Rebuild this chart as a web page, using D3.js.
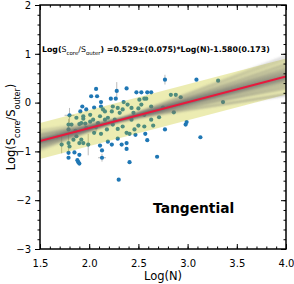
<!DOCTYPE html>
<html>
<head>
<meta charset="utf-8">
<script src="https://cdn.jsdelivr.net/npm/d3@7"></script>
<style>
  body { margin: 0; background: #fff; }
  svg { display: block; font-family: "DejaVu Sans", sans-serif; }
</style>
</head>
<body>
<div id="wrapper"></div>
<script>
// step 0: data
const logN = [
  2.07, 2.28, 2.38, 2.02, 2.08, 2.22, 2.27, 2.48, 2.53, 2.59, 2.58, 2.12, 2.35, 1.93, 2.05, 1.91,
  1.80, 2.77, 3.09, 2.63, 2.83, 2.88, 2.93, 2.86, 2.98, 2.99, 3.31, 3.36, 2.77, 3.13, 2.69, 2.59,
  2.57, 2.47, 2.41, 2.30, 2.38, 2.38, 2.33, 2.29, 2.23, 2.19, 2.11, 2.13, 2.13, 1.79, 1.85, 1.90,
  1.79, 1.88, 1.89, 1.90, 2.63, 2.65,
  1.72, 1.79, 1.80, 1.92, 1.94, 1.90, 1.99, 1.84, 1.87, 1.79, 1.90, 1.92, 1.96, 2.01, 2.07, 2.12,
  2.18, 2.24, 2.29, 2.34, 2.38, 2.41, 2.46, 2.50, 2.56, 2.09, 2.12, 2.16, 2.19, 2.23, 2.29, 2.31,
  2.34, 2.39, 2.43, 2.50, 2.45, 2.53, 2.56, 2.63, 2.26, 2.16, 1.97, 1.94, 2.01, 1.87, 1.82, 2.04,
  1.97, 1.79, 2.11, 2.14, 2.24, 2.51, 2.56, 1.94, 2.71, 2.75, 2.43, 2.05, 1.86
];
const logRatio = [
  0.28, 0.24, 0.29, 0.13, 0.13, 0.08, 0.08, 0.21, 0.21, 0.21, 0.08, 0.01, 0.01, -0.08, -0.10, -0.18,
  -0.26, 0.47, 0.47, 0.21, 0.16, 0.16, 0.11, -0.20, -0.45, -0.40, 0.45, 0.01, -0.55, -0.71, -1.11, -0.77,
  -0.64, -0.66, -1.22, -1.58, -0.95, -0.83, -0.86, -0.74, -0.86, -0.80, -0.88, -0.98, -1.13, -1.03, -1.02, -1.07,
  -1.13, -1.18, -1.22, -1.25, -0.35, -0.47,
  -0.86, -0.83, -0.90, -0.76, -0.83, -0.83, -0.86, -0.76, -0.69, -0.45, -0.44, -0.42, -0.43, -0.39, -0.50, -0.64,
  -0.55, -0.45, -0.54, -0.49, -0.62, -0.64, -0.55, -0.47, -0.49, -0.42, -0.08, -0.18, -0.31, -0.18, -0.11, -0.21,
  -0.14, -0.04, -0.11, -0.12, -0.21, -0.04, -0.25, -0.08, -0.35, -0.35, -0.14, -0.28, -0.25, -0.31, -0.45, -0.35,
  -0.52, -0.55, -0.28, -0.14, -0.08, 0.06, 0.08, -0.33, -0.30, -0.10, -0.35, -0.62, -0.58
];

// points that carry error bars
const errN = [2.28, 1.80, 2.77, 2.13, 1.72, 1.79, 1.99, 1.79, 2.07];
const errRatio = [0.24, -0.26, 0.47, -1.13, -0.86, -0.83, -0.86, -0.45, -0.50];
const errNSize = [0, 0.05, 0, 0.04, 0, 0, 0, 0, 0];
const errRatioSize = [0.18, 0.15, 0.10, 0.08, 0.18, 0.20, 0.22, 0.12, 0.10];

// best fit and its scatter band
const fitSlope = 0.529;
const fitIntercept = -1.580;
const fitScatter = 0.37;

// bootstrap fan of fits
const fanSlope = [
  0.29, 0.33, 0.37, 0.40, 0.42, 0.44, 0.46, 0.47, 0.48, 0.49, 0.50, 0.51, 0.515, 0.52, 0.525,
  0.53, 0.535, 0.54, 0.55, 0.56, 0.57, 0.58, 0.59, 0.60, 0.62, 0.64, 0.66, 0.69, 0.72, 0.77
];
const fanIntercept = [
  -1.01, -1.14, -1.20, -1.29, -1.30, -1.41, -1.41, -1.46, -1.45, -1.49, -1.52, -1.52, -1.57, -1.55, -1.57,
  -1.59, -1.57, -1.63, -1.62, -1.66, -1.65, -1.72, -1.71, -1.75, -1.77, -1.86, -1.87, -1.96, -2.00, -2.13
];

const xTicks = [1.5, 2.0, 2.5, 3.0, 3.5, 4.0];
const yTicks = [-3, -2, -1, 0, 1, 2];

function drawChart() {
  const dimensions = {
    width: 294,
    height: 284,
    margin: { top: 5, right: 8, bottom: 35, left: 40 },
  };
  dimensions.boundedWidth = dimensions.width - dimensions.margin.left - dimensions.margin.right;
  dimensions.boundedHeight = dimensions.height - dimensions.margin.top - dimensions.margin.bottom;

  const wrapper = d3.select('#wrapper')
    .append('svg')
    .attr('width', dimensions.width)
    .attr('height', dimensions.height);
  const bounds = wrapper.append('g')
    .attr('transform', `translate(${dimensions.margin.left},${dimensions.margin.top})`);

  const xScale = d3.scaleLinear().domain([1.5, 4.0]).range([0, dimensions.boundedWidth]);
  const yScale = d3.scaleLinear().domain([-3, 2]).range([dimensions.boundedHeight, 0]);

  const defs = wrapper.append('defs');
  defs.append('clipPath').attr('id', 'clip')
    .append('rect')
    .attr('width', dimensions.boundedWidth)
    .attr('height', dimensions.boundedHeight);
  defs.append('filter').attr('id', 'soft')
    .attr('x', '-10%').attr('y', '-50%').attr('width', '120%').attr('height', '200%')
    .append('feGaussianBlur').attr('stdDeviation', 1.3);
  const plot = bounds.append('g').attr('clip-path', 'url(#clip)');

  const [x0, x1] = xScale.domain();

  // error bars
  const errs = plot.append('g').attr('stroke', '#aaaaaa').attr('stroke-width', 0.8);
  errN.forEach((n, i) => {
    errs.append('line')
      .attr('x1', xScale(n)).attr('x2', xScale(n))
      .attr('y1', yScale(errRatio[i] - errRatioSize[i]))
      .attr('y2', yScale(errRatio[i] + errRatioSize[i]));
    if (errNSize[i] > 0) {
      errs.append('line')
        .attr('x1', xScale(n - errNSize[i])).attr('x2', xScale(n + errNSize[i]))
        .attr('y1', yScale(errRatio[i])).attr('y2', yScale(errRatio[i]));
    }
  });

  // points
  plot.append('g').selectAll('circle')
    .data(logN)
    .join('circle')
    .attr('cx', d => xScale(d))
    .attr('cy', (d, i) => yScale(logRatio[i]))
    .attr('r', 2.1)
    .attr('fill', '#1f77b4');

  // scatter band
  const band = d3.area()
    .x(d => xScale(d))
    .y0(d => yScale(fitSlope * d + fitIntercept - fitScatter))
    .y1(d => yScale(fitSlope * d + fitIntercept + fitScatter));
  plot.append('path')
    .datum([x0, x1])
    .attr('d', band)
    .attr('fill', '#bfbf00')
    .attr('opacity', 0.3);

  // fan of bootstrap fits
  const fan = plot.append('g')
    .attr('filter', 'url(#soft)')
    .attr('stroke', '#707070')
    .attr('stroke-width', 2.2)
    .attr('stroke-opacity', 0.27);
  fanSlope.forEach((s, i) => {
    fan.append('line')
      .attr('x1', xScale(x0) - 10).attr('y1', yScale(s * (x0 - 0.1) + fanIntercept[i]))
      .attr('x2', xScale(x1) + 10).attr('y2', yScale(s * (x1 + 0.1) + fanIntercept[i]));
  });

  // best fit
  plot.append('line')
    .attr('x1', xScale(x0)).attr('y1', yScale(fitSlope * x0 + fitIntercept))
    .attr('x2', xScale(x1)).attr('y2', yScale(fitSlope * x1 + fitIntercept))
    .attr('stroke', '#e8193c')
    .attr('stroke-width', 2);

  // axes
  const xMinor = d3.range(15, 41).map(d => d / 10);
  const yMinor = d3.range(-15, 11).map(d => d / 5);

  const styleAxis = g => {
    g.select('.domain').remove();
    g.selectAll('text').style('font-size', '10px').attr('fill', '#000')
      .style('font-family', '"DejaVu Sans", sans-serif');
    g.selectAll('line').attr('stroke', '#000');
  };

  bounds.append('g')
    .attr('transform', `translate(0,${dimensions.boundedHeight})`)
    .call(d3.axisBottom(xScale).tickValues(xTicks).tickFormat(d3.format('.1f')).tickSize(-5).tickPadding(11))
    .call(styleAxis);
  bounds.append('g')
    .attr('transform', `translate(0,${dimensions.boundedHeight})`)
    .call(d3.axisBottom(xScale).tickValues(xMinor).tickFormat('').tickSize(-2.5))
    .call(styleAxis);
  bounds.append('g')
    .call(d3.axisTop(xScale).tickValues(xTicks).tickFormat('').tickSize(-5))
    .call(styleAxis);
  bounds.append('g')
    .call(d3.axisTop(xScale).tickValues(xMinor).tickFormat('').tickSize(-2.5))
    .call(styleAxis);

  bounds.append('g')
    .call(d3.axisLeft(yScale).tickValues(yTicks).tickFormat(d3.format('d')).tickSize(5).tickPadding(4))
    .call(styleAxis);
  bounds.append('g')
    .call(d3.axisLeft(yScale).tickValues(yMinor).tickFormat('').tickSize(2.5))
    .call(styleAxis);
  bounds.append('g')
    .attr('transform', `translate(${dimensions.boundedWidth},0)`)
    .call(d3.axisRight(yScale).tickValues(yTicks).tickFormat('').tickSize(-5))
    .call(styleAxis);
  bounds.append('g')
    .attr('transform', `translate(${dimensions.boundedWidth},0)`)
    .call(d3.axisRight(yScale).tickValues(yMinor).tickFormat('').tickSize(-2.5))
    .call(styleAxis);

  // frame
  bounds.append('rect')
    .attr('width', dimensions.boundedWidth)
    .attr('height', dimensions.boundedHeight)
    .attr('fill', 'none')
    .attr('stroke', '#000')
    .attr('stroke-width', 1.5);

  // axis labels
  wrapper.append('text')
    .attr('x', dimensions.margin.left + dimensions.boundedWidth / 2)
    .attr('y', 280)
    .attr('text-anchor', 'middle')
    .style('font-size', '11.5px')
    .text('Log(N)');

  const yLabel = wrapper.append('text')
    .attr('transform', `translate(15,${dimensions.margin.top + dimensions.boundedHeight / 2}) rotate(-90)`)
    .attr('text-anchor', 'middle')
    .style('font-size', '11.5px');
  yLabel.append('tspan').text('Log(S');
  yLabel.append('tspan').attr('baseline-shift', 'sub').style('font-size', '8px').text('core');
  yLabel.append('tspan').text('/S');
  yLabel.append('tspan').attr('baseline-shift', 'sub').style('font-size', '8px').text('outer');
  yLabel.append('tspan').text(')');

  // fit annotation
  const note = bounds.append('text')
    .attr('x', 2)
    .attr('y', 47)
    .style('font-size', '7.8px');
  note.append('tspan').style('font-weight', 'bold').text('Log(');
  note.append('tspan').text('S');
  note.append('tspan').attr('baseline-shift', 'sub').style('font-size', '5.5px').text('core');
  note.append('tspan').text('/S');
  note.append('tspan').attr('baseline-shift', 'sub').style('font-size', '5.5px').text('outer');
  note.append('tspan').style('font-weight', 'bold')
    .text(`) =${fitSlope.toFixed(3)}±(0.075)*Log(N)${fitIntercept.toFixed(3)}(0.173)`);

  bounds.append('text')
    .attr('x', 113)
    .attr('y', 208)
    .style('font-size', '13.8px')
    .style('font-weight', 'bold')
    .text('Tangential');
}
drawChart();
</script>
</body>
</html>
